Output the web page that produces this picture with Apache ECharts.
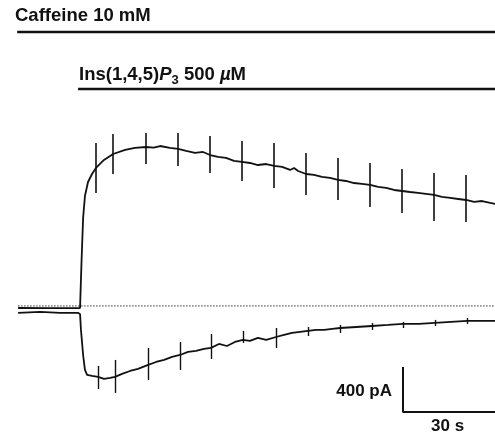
<!DOCTYPE html>
<html>
<head>
<meta charset="utf-8">
<script src="https://cdn.jsdelivr.net/npm/echarts@6/dist/echarts.min.js"></script>
<style>
  html, body { margin: 0; padding: 0; background: #fff; }
  #chart { width: 495px; height: 437px; }
</style>
</head>
<body>
<div id="chart"></div>
<script>
// time (s, 0 = Ins(1,4,5)P3 application) and membrane current (pA, 0 = dotted line)
const upperT = [-20.2, -10, 0, 0.5, 1.0, 1.6, 2.6, 3.9, 5.2, 7.8, 10.8, 14.7, 17.9, 21.5, 24.0, 26.1, 29.3, 32.0, 34.6, 37.5, 40.1, 42.4, 45.0, 47.6, 50.2, 52.8, 55.4, 58.0, 60.7, 63.3, 65.9, 68.5, 69.8, 71.1, 73.7, 76.3, 78.9, 81.5, 84.1, 86.7, 89.3, 91.9, 94.6, 97.2, 99.8, 102.4, 105.0, 107.6, 110.2, 112.8, 115.4, 118.0, 120.7, 123.3, 125.9, 128.5, 131.1, 133.7, 135.3];
const upperI = [-18, -20, -18, 409, 782, 978, 1102, 1173, 1227, 1298, 1351, 1387, 1405, 1413, 1408, 1422, 1405, 1396, 1378, 1360, 1369, 1342, 1325, 1316, 1289, 1280, 1271, 1253, 1262, 1245, 1236, 1209, 1227, 1200, 1173, 1165, 1147, 1138, 1120, 1111, 1093, 1085, 1076, 1058, 1049, 1031, 1022, 1013, 1005, 996, 987, 969, 960, 951, 942, 925, 933, 916, 907];

const lowerT = [-20.2, -13.0, -6.5, -0.7, 0, 0.3, 1.0, 1.6, 2.3, 3.9, 5.9, 7.8, 9.8, 11.4, 13.7, 16.3, 18.9, 22.2, 24.8, 27.4, 30.0, 32.6, 35.2, 37.8, 40.4, 42.7, 45.3, 47.9, 50.5, 53.1, 55.4, 58.0, 60.7, 63.9, 66.5, 69.1, 71.7, 74.3, 77.0, 79.6, 82.2, 84.8, 90.0, 95.2, 100.4, 105.3, 110.5, 115.7, 120.9, 126.2, 130.7, 135.3];
const lowerI = [-62, -53, -62, -62, -71, -213, -436, -569, -613, -622, -631, -649, -640, -631, -604, -578, -560, -524, -498, -480, -453, -436, -409, -400, -382, -373, -338, -356, -320, -302, -311, -284, -302, -276, -258, -240, -231, -222, -213, -213, -204, -196, -187, -178, -169, -160, -160, -151, -142, -133, -133, -133];

// voltage-ramp artefacts: time, top and bottom current (pA)
const rampUpT = [5.2, 10.8, 21.5, 32.0, 42.4, 52.8, 63.3, 73.7, 84.1, 94.6, 105.0, 115.4, 125.9];
const rampUpTop = [1449, 1529, 1538, 1538, 1511, 1467, 1449, 1360, 1316, 1271, 1218, 1182, 1165];
const rampUpBot = [1005, 1173, 1262, 1245, 1182, 1111, 1049, 987, 942, 880, 827, 756, 747];

const rampLoT = [5.9, 11.4, 22.2, 32.6, 42.7, 53.1, 63.9, 74.3, 84.8, 95.2, 105.3, 115.7, 126.2];
const rampLoTop = [-533, -480, -373, -320, -249, -222, -196, -187, -169, -151, -142, -124, -107];
const rampLoBot = [-738, -773, -658, -569, -471, -329, -373, -267, -240, -213, -196, -178, -160];

// drug applications (s)
const caffeineStart = -20.5;
const ins3Start = -0.65;
const recordEnd = 135.3;

// scale bar
const scaleT = 30;    // s
const scaleI = 400;   // pA

const ink = '#111';
const pairs = (xs, ys) => xs.map((x, i) => [x, ys[i]]);
const ramps = (ts, tops, bots) => ts.map((t, i) => ({ coords: [[t, tops[i]], [t, bots[i]]] }));

const chart = echarts.init(document.getElementById('chart'));

chart.setOption({
  animation: false,
  backgroundColor: '#fff',
  grid: { left: 0, right: 0, top: 0, bottom: 0 },
  xAxis: { type: 'value', min: -26.1, max: 135.3, show: false },
  yAxis: { type: 'value', min: -1165, max: 2720, show: false },
  graphic: [
    {
      type: 'text', left: 15, top: 6,
      style: { text: 'Caffeine 10 mM', font: 'bold 18.5px "Liberation Sans", Arial, sans-serif', fill: ink }
    },
    {
      type: 'text', left: 79, top: 65,
      style: {
        text: '{n|Ins(1,4,5)}{i|P}{s|3}{n| 500 }{i|\u00b5}{n|M}',
        fill: ink,
        rich: {
          n: { fontSize: 18.5, fontFamily: 'Liberation Sans', fontWeight: 'bold', lineHeight: 24, fill: ink },
          i: { fontSize: 18.5, fontFamily: 'Liberation Sans', fontWeight: 'bold', fontStyle: 'italic', lineHeight: 24, fill: ink },
          s: { fontSize: 13, fontFamily: 'Liberation Sans', fontWeight: 'bold', lineHeight: 12, verticalAlign: 'bottom', fill: ink }
        }
      }
    },
    {
      type: 'text', right: 103, top: 383,
      style: { text: '400 pA', font: 'bold 17px "Liberation Sans", Arial, sans-serif', fill: ink }
    },
    {
      type: 'text', left: 431, top: 418,
      style: { text: '30 s', font: 'bold 17px "Liberation Sans", Arial, sans-serif', fill: ink }
    }
  ],
  series: [
    {
      name: 'Caffeine', type: 'line', symbol: 'none', silent: true,
      data: [[caffeineStart, 2436], [recordEnd, 2436]],
      lineStyle: { color: ink, width: 2.5 }
    },
    {
      name: 'InsP3', type: 'line', symbol: 'none', silent: true,
      data: [[ins3Start, 1929], [recordEnd, 1929]],
      lineStyle: { color: ink, width: 2.5 }
    },
    {
      name: 'zero', type: 'line', symbol: 'none', silent: true,
      data: [[-20.2, 0], [recordEnd, 0]],
      lineStyle: { color: '#333', width: 1, type: [1.5, 1.5] }
    },
    {
      name: 'upper', type: 'line', symbol: 'none', silent: true,
      data: pairs(upperT, upperI),
      lineStyle: { color: ink, width: 1.8 }
    },
    {
      name: 'lower', type: 'line', symbol: 'none', silent: true,
      data: pairs(lowerT, lowerI),
      lineStyle: { color: ink, width: 1.8 }
    },
    {
      name: 'rampsUp', type: 'lines', coordinateSystem: 'cartesian2d', silent: true,
      data: ramps(rampUpT, rampUpTop, rampUpBot),
      lineStyle: { color: ink, width: 1.6, opacity: 1 }
    },
    {
      name: 'rampsLo', type: 'lines', coordinateSystem: 'cartesian2d', silent: true,
      data: ramps(rampLoT, rampLoTop, rampLoBot),
      lineStyle: { color: ink, width: 1.4, opacity: 1 }
    },
    {
      name: 'scale', type: 'line', symbol: 'none', silent: true,
      data: [[recordEnd - scaleT, -942 + scaleI], [recordEnd - scaleT, -942], [recordEnd, -942]],
      lineStyle: { color: ink, width: 2 }
    }
  ]
});
</script>
</body>
</html>
